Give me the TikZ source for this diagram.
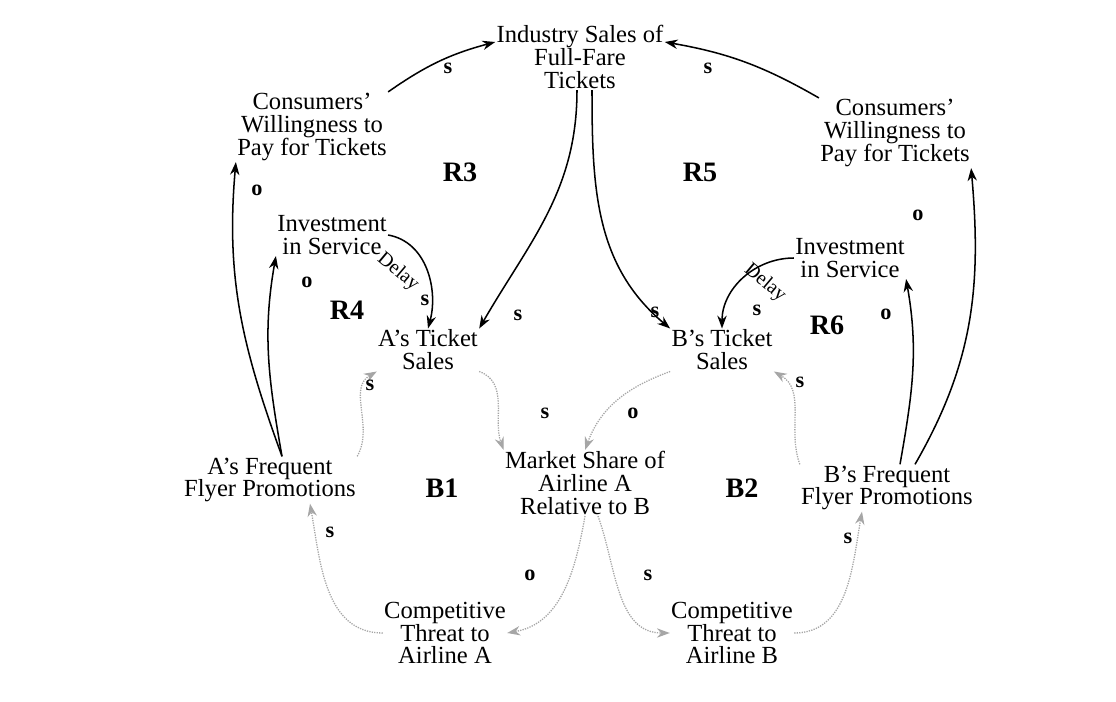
\documentclass[tikz,border=0pt]{standalone}
\usepackage{fontspec}
\setmainfont{Liberation Serif}
\usetikzlibrary{arrows.meta}
\begin{document}
\begin{tikzpicture}[x=0.03cm,y=-0.03cm,
  every node/.style={font=\fontsize{21}{19.5}\selectfont,align=center,inner sep=1pt},
  var/.style={},
  pol/.style={font=\fontsize{19}{19}\selectfont\bfseries},
  loop/.style={font=\fontsize{24}{24}\selectfont\bfseries},
  delay/.style={rotate=-40,font=\fontsize{17}{17}\selectfont},
  link/.style={-{Stealth[length=11pt,width=8pt]},line width=1.3pt},
  dlink/.style={-{Stealth[length=11pt,width=8pt]},line width=1.1pt,densely dotted,gray!70}]
\useasboundingbox (0,0) rectangle (1116,702);
\node[var] (ind) at (580,57) {Industry Sales of\\Full-Fare\\Tickets};
\node[var] (ca) at (312,127) {Consumers'\\Willingness to\\Pay for Tickets};
\node[var] (cb) at (895,133) {Consumers'\\Willingness to\\Pay for Tickets};
\node[var] (ia) at (332,235) {Investment\\in Service};
\node[var] (ib) at (850,258) {Investment\\in Service};
\node[var] (ta) at (428,350) {A's Ticket\\Sales};
\node[var] (tb) at (722,350) {B's Ticket\\Sales};
\node[var] (ms) at (585,483) {Market Share of\\Airline A\\Relative to B};
\node[var] (fa) at (270,480) {A's Frequent\\Flyer Promotions};
\node[var] (fb) at (887,488) {B's Frequent\\Flyer Promotions};
\node[var] (pa) at (445,633) {Competitive\\Threat to\\Airline A};
\node[var] (pb) at (732,633) {Competitive\\Threat to\\Airline B};
\node[loop] (r3) at (460,172) {R3};
\node[loop] (r5) at (700,172) {R5};
\node[loop] (r4) at (347,310) {R4};
\node[loop] (r6) at (827,325) {R6};
\node[loop] (b1) at (442,488) {B1};
\node[loop] (b2) at (742,488) {B2};
% solid links
\draw[link] (ca.north east) to[bend left=10] (ind.west |- 0,42);
\draw[link] (cb.north west) to[bend right=10] (ind.east |- 0,42);
\draw[link] (ind.south -| 577,0) to[out=-90,in=60] (ta.north east);
\draw[link] (ind.south -| 592,0) to[out=-90,in=140] (tb.north west);
\draw[link] (ia.east) to[out=-10,in=75] (ta.north);
\draw[link] (ib.west) to[out=180,in=90] (tb.north);
\draw[link] (fa.north -| 282,0) to[out=100,in=-100] (ia.south west);
\draw[link] (fa.north -| 282,0) to[out=110,in=-95] (ca.south west);
\draw[link] (fb.north -| 900,0) to[out=80,in=-80] (ib.south east);
\draw[link] (fb.north -| 915,0) to[out=60,in=-85] (cb.south east);
% dotted links
\draw[dlink] (fa.north east) to[out=60,in=210] (ta.south west);
\draw[dlink] (ta.south east) to[out=-20,in=110] (ms.north west);
\draw[dlink] (tb.south west) to[out=200,in=70] (ms.north);
\draw[dlink] (fb.north west) to[out=110,in=-30] (tb.south east);
\draw[dlink] (ms.south -| 585,0) to[out=-100,in=10] (pa.east);
\draw[dlink] (ms.south -| 598,0) to[out=-70,in=180] (pb.west);
\draw[dlink] (pa.west) to[out=180,in=-80] (fa.south -| 310,0);
\draw[dlink] (pb.east) to[out=0,in=-100] (fb.south -| 862,0);
% polarities
\node[pol] at (448,68) {s};
\node[pol] at (708,68) {s};
\node[pol] at (518,315) {s};
\node[pol] at (655,312) {s};
\node[pol] at (425,300) {s};
\node[pol] at (757,310) {s};
\node[pol] at (257,190) {o};
\node[pol] at (307,282) {o};
\node[pol] at (918,215) {o};
\node[pol] at (886,314) {o};
\node[pol] at (370,385) {s};
\node[pol] at (545,413) {s};
\node[pol] at (633,413) {o};
\node[pol] at (800,382) {s};
\node[pol] at (530,575) {o};
\node[pol] at (648,575) {s};
\node[pol] at (330,532) {s};
\node[pol] at (848,538) {s};
\node[delay] at (398,272) {Delay};
\node[delay] at (765,283) {Delay};
\end{tikzpicture}
\end{document}
